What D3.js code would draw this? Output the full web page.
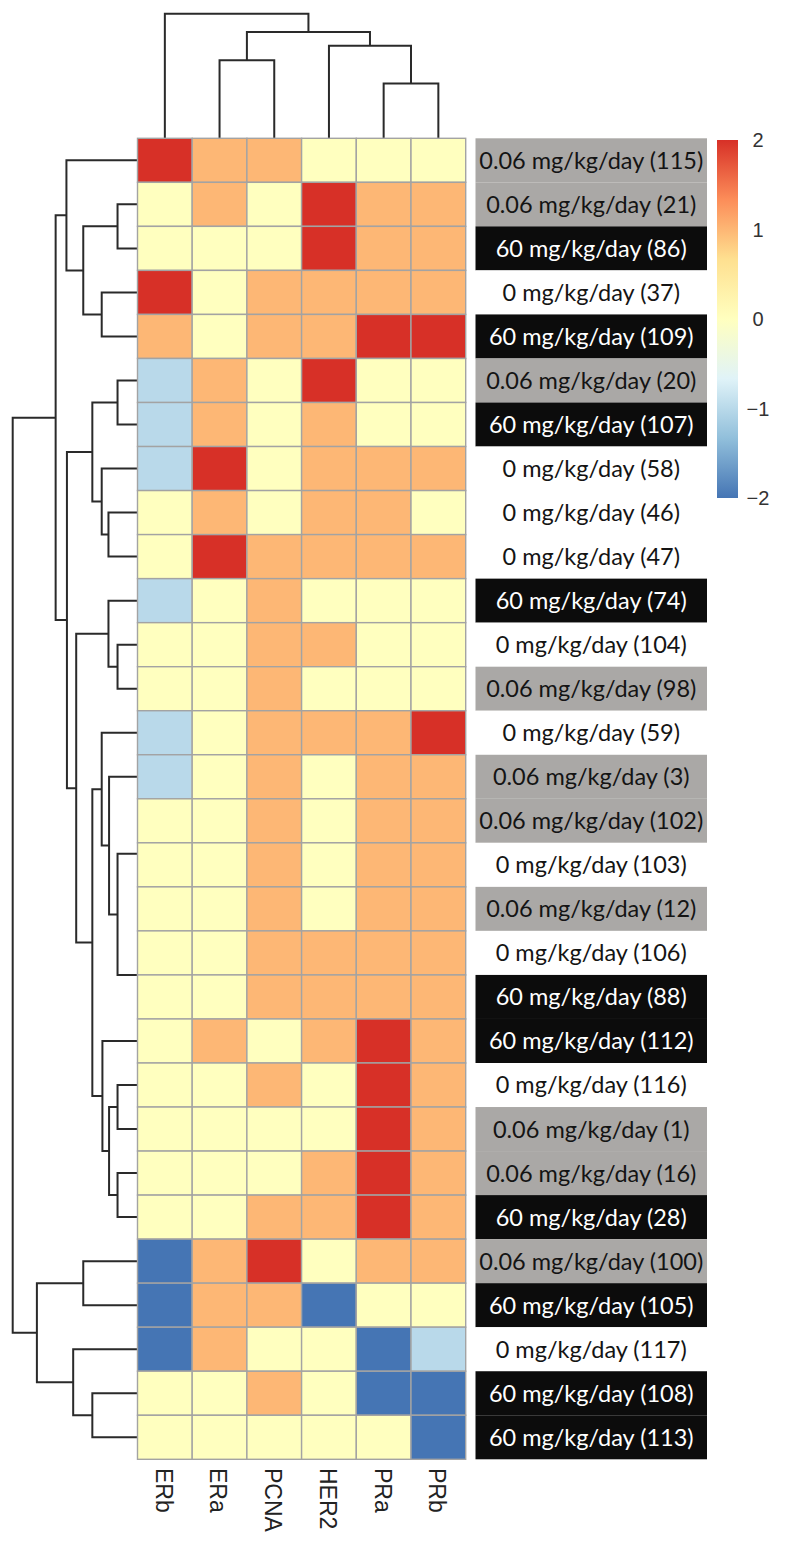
<!DOCTYPE html>
<html>
<head>
<meta charset="utf-8">
<script src="https://cdn.jsdelivr.net/npm/d3@7"></script>
<style>
  body { margin: 0; background: #fff; }
  svg { display: block; }
</style>
</head>
<body>
<div id="chart"></div>
<script>
// markers (columns) in display order
var columns = ['ERb', 'ERa', 'PCNA', 'HER2', 'PRa', 'PRb'];

// animals (rows) in display order
var rowDose = ['0.06', '0.06', '60', '0', '60', '0.06', '60', '0', '0', '0',
               '60', '0', '0.06', '0', '0.06', '0.06', '0', '0.06', '0', '60',
               '60', '0', '0.06', '0.06', '60', '0.06', '60', '0', '60', '60'];
var rowIds = [115, 21, 86, 37, 109, 20, 107, 58, 46, 47,
              74, 104, 98, 59, 3, 102, 103, 12, 106, 88,
              112, 116, 1, 16, 28, 100, 105, 117, 108, 113];

// scaled scores, one array per row, columns as above
var values = [
  [ 2, 1, 1, 0, 0, 0],
  [ 0, 1, 0, 2, 1, 1],
  [ 0, 0, 0, 2, 1, 1],
  [ 2, 0, 1, 1, 1, 1],
  [ 1, 0, 1, 1, 2, 2],
  [-1, 1, 0, 2, 0, 0],
  [-1, 1, 0, 1, 0, 0],
  [-1, 2, 0, 1, 1, 1],
  [ 0, 1, 0, 1, 1, 0],
  [ 0, 2, 1, 1, 1, 1],
  [-1, 0, 1, 0, 0, 0],
  [ 0, 0, 1, 1, 0, 0],
  [ 0, 0, 1, 0, 0, 0],
  [-1, 0, 1, 1, 1, 2],
  [-1, 0, 1, 0, 1, 1],
  [ 0, 0, 1, 0, 1, 1],
  [ 0, 0, 1, 0, 1, 1],
  [ 0, 0, 1, 0, 1, 1],
  [ 0, 0, 1, 1, 1, 1],
  [ 0, 0, 1, 1, 1, 1],
  [ 0, 1, 0, 1, 2, 1],
  [ 0, 0, 1, 0, 2, 1],
  [ 0, 0, 0, 0, 2, 1],
  [ 0, 0, 0, 1, 2, 1],
  [ 0, 0, 1, 1, 2, 1],
  [-2, 1, 2, 0, 1, 1],
  [-2, 1, 1,-2, 0, 0],
  [-2, 1, 0, 0,-2,-1],
  [ 0, 0, 1, 0,-2,-2],
  [ 0, 0, 0, 0, 0,-2]
];

// hclust style merges: negative = leaf (1-based display position), positive = earlier merge
var rowMerge = [
  [-2, -3], [-4, -5], [1, 2], [-1, 3], [-6, -7], [-9, -10], [-8, 6], [5, 7],
  [-12, -13], [-11, 9], [-17, -18], [-16, 11], [-19, -20], [12, 13], [-15, 14],
  [-14, 15], [-22, -23], [-24, -25], [17, 18], [-21, 19], [16, 20], [10, 21],
  [8, 22], [4, 23], [-26, -27], [-29, -30], [-28, 26], [25, 27], [24, 28]
];
var rowHeights = [
  20.3, 36, 54.3, 71, 20.3, 29.3, 36, 45.3,
  20.3, 29.3, 0, 0, 0, 20.3, 28.7,
  36, 20.3, 20.3, 28.7, 35.3, 45.3, 61.3,
  70.5, 81.7, 54.3, 45.3, 64.3, 100.3, 124.3
];

var colMerge = [[-5, -6], [-2, -3], [-4, 1], [2, 3], [-1, 4]];
var colHeights = [54.7, 78, 92.3, 106, 124.3];

var legendTicks = [-2, -1, 0, 1, 2];
var palette = ['#4575B4', '#91BFDB', '#E0F3F8', '#FFFFBF', '#FEE090', '#FC8D59', '#D73027'];

var width = 786;
var height = 1548;

var svg = d3.select('#chart').append('svg')
    .attr('width', width)
    .attr('height', height);

var x = d3.scaleBand().domain(columns).range([137.5, 465.7]);
var y = d3.scaleBand().domain(d3.range(rowIds.length)).range([138.3, 1459.3]);

var color = d3.scaleLinear()
    .domain(d3.range(palette.length).map(i => -2 + i * 4 / (palette.length - 1)))
    .range(palette);

var doseFill = d3.scaleOrdinal().domain(['0', '0.06', '60']).range(['#ffffff', '#aaa8a6', '#0c0c0c']);
var doseText = d3.scaleOrdinal().domain(['0', '0.06', '60']).range(['#141414', '#141414', '#ffffff']);

// dendrograms (drawn first so zero height joins hide under the cell border)
function layout(merge, heights, leafPos) {
  var nodes = [];
  function get(k) {
    return k < 0 ? { p: leafPos(-k - 1), h: 0 } : nodes[k - 1];
  }
  merge.forEach((m, i) => {
    var a = get(m[0]), b = get(m[1]);
    nodes.push({ p: (a.p + b.p) / 2, h: heights[i], a: a, b: b });
  });
  return nodes;
}

var rowNodes = layout(rowMerge, rowHeights, i => y(i) + y.bandwidth() / 2);
var hx = d3.scaleLinear().domain([0, d3.max(rowHeights)]).range([138, 12.7]);

svg.append('g').attr('class', 'row-dendro')
  .selectAll('path')
  .data(rowNodes.filter(n => n.h > 0))
  .join('path')
    .attr('d', n => `M${hx(n.a.h)},${n.a.p}H${hx(n.h)}V${n.b.p}H${hx(n.b.h)}`)
    .attr('fill', 'none')
    .attr('stroke', '#2a2a2a')
    .attr('stroke-width', 2);

var colNodes = layout(colMerge, colHeights, i => x(columns[i]) + x.bandwidth() / 2);
var hy = d3.scaleLinear().domain([0, d3.max(colHeights)]).range([138.5, 13.7]);

svg.append('g').attr('class', 'col-dendro')
  .selectAll('path')
  .data(colNodes)
  .join('path')
    .attr('d', n => `M${n.a.p},${hy(n.a.h)}V${hy(n.h)}H${n.b.p}V${hy(n.b.h)}`)
    .attr('fill', 'none')
    .attr('stroke', '#2a2a2a')
    .attr('stroke-width', 2);

// heatmap cells
var cells = [];
values.forEach((row, i) => row.forEach((v, j) => cells.push({ r: i, c: columns[j], v: v })));

svg.append('g').attr('class', 'cells')
  .selectAll('rect')
  .data(cells)
  .join('rect')
    .attr('x', d => x(d.c))
    .attr('y', d => y(d.r))
    .attr('width', x.bandwidth())
    .attr('height', y.bandwidth())
    .attr('fill', d => color(d.v))
    .attr('stroke', '#a3a3a3')
    .attr('stroke-width', 1.4);

// column labels
svg.append('g').attr('class', 'col-labels')
  .selectAll('text')
  .data(columns)
  .join('text')
    .attr('transform', d => `translate(${x(d) + x.bandwidth() / 2 - 1},1468)rotate(90)`)
    .attr('dy', '0.35em')
    .attr('font-family', '"Liberation Sans", Arial, sans-serif')
    .attr('font-size', 23)
    .attr('fill', '#222')
    .text(d => d);

// dose annotation boxes
var boxX = 475.5, boxW = 231.5;
var ann = svg.append('g').attr('class', 'annotation');
ann.selectAll('rect')
  .data(rowDose)
  .join('rect')
    .attr('x', boxX)
    .attr('y', (d, i) => y(i))
    .attr('width', boxW)
    .attr('height', y.bandwidth())
    .attr('fill', d => doseFill(d));

ann.selectAll('text')
  .data(rowDose)
  .join('text')
    .attr('x', boxX + boxW / 2)
    .attr('y', (d, i) => y(i) + y.bandwidth() / 2)
    .attr('dy', '0.36em')
    .attr('text-anchor', 'middle')
    .attr('font-family', 'Lato, "Open Sans", sans-serif')
    .attr('font-size', 23.5)
    .attr('fill', d => doseText(d))
    .text((d, i) => `${d} mg/kg/day (${rowIds[i]})`);

// colour legend
var ly = d3.scaleLinear().domain([-2, 2]).range([498, 140]);
var grad = svg.append('defs').append('linearGradient')
    .attr('id', 'legend-grad')
    .attr('x1', 0).attr('y1', 1).attr('x2', 0).attr('y2', 0);
grad.selectAll('stop')
  .data(color.domain())
  .join('stop')
    .attr('offset', d => (d + 2) / 4)
    .attr('stop-color', d => color(d));

svg.append('rect')
    .attr('x', 717)
    .attr('y', ly(2))
    .attr('width', 21)
    .attr('height', ly(-2) - ly(2))
    .attr('fill', 'url(#legend-grad)');

svg.append('g').attr('class', 'legend-labels')
  .selectAll('text')
  .data(legendTicks)
  .join('text')
    .attr('x', 758)
    .attr('y', d => ly(d))
    .attr('dy', '0.36em')
    .attr('text-anchor', 'middle')
    .attr('font-family', '"Liberation Sans", Arial, sans-serif')
    .attr('font-size', 20)
    .attr('fill', '#333')
    .text(d => d < 0 ? '\u2212' + Math.abs(d) : d);
</script>
</body>
</html>
